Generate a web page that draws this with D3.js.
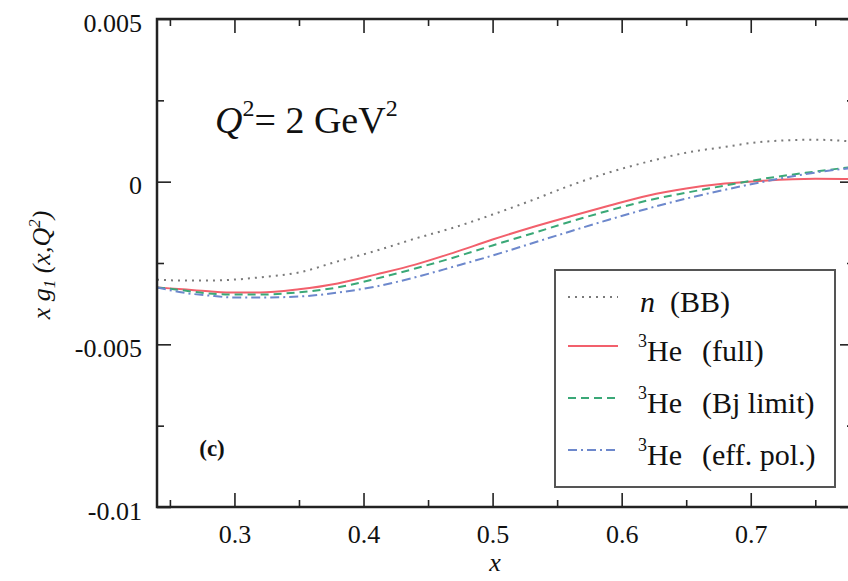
<!DOCTYPE html>
<html><head><meta charset="utf-8">
<script src="https://cdn.jsdelivr.net/npm/d3@7"></script>
<style>
body{margin:0;background:#fff;}
svg text{font-family:"Liberation Serif","Times New Roman",serif;fill:#111;}
</style></head>
<body><svg id="c" width="848" height="581"></svg>
<script>
// ---- data ----
const xs = [0.24,0.26,0.28,0.30,0.32,0.35,0.38,0.41,0.44,0.47,0.50,0.53,0.56,0.59,0.62,0.65,0.68,0.71,0.75,0.78];
const nBB   = [-0.00301,-0.00304,-0.00304,-0.00301,-0.00294,-0.00279,-0.00245,-0.00212,-0.00175,-0.00141,-0.00101,-0.00058,-0.00012,0.00028,0.00061,0.00089,0.00107,0.00123,0.00129,0.00123];
const heFull= [-0.00325,-0.00331,-0.00337,-0.00341,-0.00341,-0.00331,-0.00313,-0.00285,-0.00255,-0.00218,-0.00178,-0.00141,-0.00107,-0.00074,-0.00043,-0.00021,-0.00006,0.00003,0.00009,0.00008];
const heBj  = [-0.00325,-0.00334,-0.00344,-0.00347,-0.00347,-0.00340,-0.00325,-0.00298,-0.00267,-0.00233,-0.00196,-0.00160,-0.00123,-0.00089,-0.00058,-0.00034,-0.00012,0.00009,0.00031,0.00046];
const heEff = [-0.00325,-0.00341,-0.00350,-0.00356,-0.00356,-0.00353,-0.00341,-0.00322,-0.00294,-0.00261,-0.00227,-0.00190,-0.00153,-0.00117,-0.00083,-0.00052,-0.00025,0.00000,0.00028,0.00043];
const xMajor = [0.3,0.4,0.5,0.6,0.7];
const xMinor = [0.25,0.35,0.45,0.55,0.65,0.75];
const xLabels = ["0.3","0.4","0.5","0.6","0.7"];
const yMajor = [0.005,0,-0.005,-0.01];
const yMinor = [0.0025,-0.0025,-0.0075];
const yLabels = ["0.005","0","-0.005","-0.01"];
const seriesNames = ["n","full","Bj limit","eff. pol."];

// ---- layout ----
const L=157, R=854, T=19, B=507;
const svg = d3.select("#c");
const x = d3.scaleLinear().domain([0.24,0.78]).range([L,R]);
const y = d3.scaleLinear().domain([-0.01,0.005]).range([B,T]);

svg.append("defs").append("clipPath").attr("id","clip")
  .append("rect").attr("x",L).attr("y",T).attr("width",R-L).attr("height",B-T);

const styles = [
  {data:nBB,   color:"#7a7a7a", dash:"2,5", w:2},
  {data:heFull,color:"#f2606c", dash:null,  w:2},
  {data:heBj,  color:"#3aa877", dash:"8,5", w:2},
  {data:heEff, color:"#6d88cc", dash:"9,4,2,4", w:2}
];
const line = d3.line().x(d=>x(d[0])).y(d=>y(d[1])).curve(d3.curveMonotoneX);
const g = svg.append("g").attr("clip-path","url(#clip)");
styles.forEach(s=>{
  g.append("path").datum(xs.map((v,i)=>[v,s.data[i]]))
   .attr("d",line).attr("fill","none").attr("stroke",s.color)
   .attr("stroke-width",s.w).attr("stroke-dasharray",s.dash);
});

// ---- axes ----
function styleAxis(sel){ sel.select(".domain").remove(); sel.selectAll("line").attr("stroke","#222").attr("stroke-width",1.6); }
const fmtX = d=>xLabels[xMajor.indexOf(d)];
const fmtY = d=>yLabels[yMajor.indexOf(d)];
const ax = svg.append("g").attr("transform",`translate(0,${B})`)
  .call(d3.axisBottom(x).tickValues(xMajor).tickSize(-14).tickFormat(fmtX)).call(styleAxis);
ax.selectAll("text").attr("y",36).attr("dy",0).style("font-size","26px").attr("fill","#111");
svg.append("g").attr("transform",`translate(0,${B})`)
  .call(d3.axisBottom(x).tickValues(xMinor).tickSize(-7).tickFormat("")).call(styleAxis);
svg.append("g").attr("transform",`translate(0,${T})`)
  .call(d3.axisTop(x).tickValues(xMajor).tickSize(-14).tickFormat("")).call(styleAxis);
svg.append("g").attr("transform",`translate(0,${T})`)
  .call(d3.axisTop(x).tickValues(xMinor).tickSize(-7).tickFormat("")).call(styleAxis);
const ay = svg.append("g").attr("transform",`translate(${L},0)`)
  .call(d3.axisLeft(y).tickValues(yMajor).tickSize(-14).tickFormat(fmtY)).call(styleAxis);
ay.selectAll("text").attr("x",-15).attr("dy",0).attr("y",12).style("font-size","26px").attr("fill","#111");
svg.append("g").attr("transform",`translate(${L},0)`)
  .call(d3.axisLeft(y).tickValues(yMinor).tickSize(-7).tickFormat("")).call(styleAxis);
svg.append("g").attr("transform",`translate(${R},0)`)
  .call(d3.axisRight(y).tickValues(yMajor).tickSize(-14).tickFormat("")).call(styleAxis);
svg.append("g").attr("transform",`translate(${R},0)`)
  .call(d3.axisRight(y).tickValues(yMinor).tickSize(-7).tickFormat("")).call(styleAxis);

svg.append("rect").attr("x",L).attr("y",T).attr("width",R-L).attr("height",B-T)
  .attr("fill","none").attr("stroke","#222").attr("stroke-width",2.5);

// ---- labels ----
svg.append("text").attr("x",495).attr("y",571).attr("text-anchor","middle")
  .style("font-size","26px").style("font-style","italic").text("x");
const yt = svg.append("text").attr("transform","translate(50,265) rotate(-90)")
  .attr("text-anchor","middle").style("font-size","26px").style("font-style","italic");
yt.append("tspan").text("x g");
yt.append("tspan").attr("dy",5).style("font-size","17px").text("1");
yt.append("tspan").attr("dy",-5).text(" (x,Q");
yt.append("tspan").attr("dy",-10).style("font-size","17px").text("2");
yt.append("tspan").attr("dy",10).text(")");

const qt = svg.append("text").attr("x",215).attr("y",133).style("font-size","38px");
qt.append("tspan").style("font-style","italic").text("Q");
qt.append("tspan").attr("dy",-17).style("font-size","24px").text("2");
qt.append("tspan").attr("dy",17).text("= 2 GeV");
qt.append("tspan").attr("dy",-17).style("font-size","24px").text("2");

svg.append("text").attr("x",212).attr("y",456).attr("text-anchor","middle")
  .style("font-size","23px").style("font-weight","bold").text("(c)");

// ---- legend ----
const lg = svg.append("g");
lg.append("rect").attr("x",555).attr("y",270).attr("width",280).attr("height",217)
  .attr("fill","#fff").attr("stroke","#555").attr("stroke-width",2);
const rowY = [297,346,398,450];
styles.forEach((s,i)=>{
  lg.append("line").attr("x1",568).attr("x2",618).attr("y1",rowY[i]).attr("y2",rowY[i])
    .attr("stroke",s.color).attr("stroke-width",s.w).attr("stroke-dasharray",s.dash);
  const t = lg.append("text").attr("x",638).attr("y",rowY[i]+15).style("font-size","30px");
  if(i===0){
    t.attr("x",640);
    t.append("tspan").style("font-style","italic").text("n");
    t.append("tspan").attr("x",670).text("(BB)");
  } else {
    t.append("tspan").attr("dy",-14).style("font-size","18px").text("3");
    t.append("tspan").attr("dy",14).text("He");
    t.append("tspan").attr("x",702).text("("+seriesNames[i]+")");
  }
});
</script></body></html>
